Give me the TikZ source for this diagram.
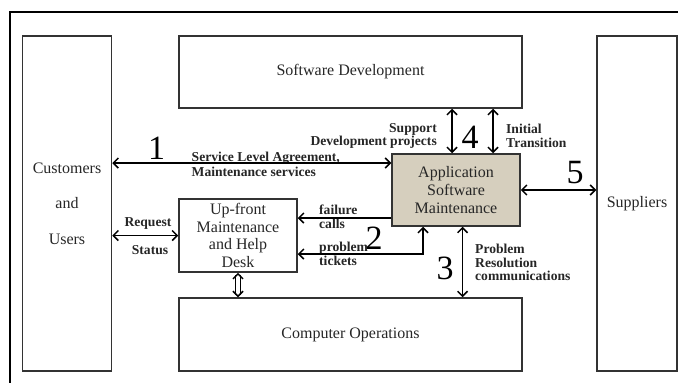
\documentclass[tikz,border=0pt]{standalone}
\usepackage{fontspec}
\setmainfont{Liberation Serif}
\usepackage{tikz}
\usetikzlibrary{arrows.meta,calc}
\definecolor{asmfill}{RGB}{214,207,190}
\tikzstyle{block} = [rectangle, draw=black!80, line width=1.5pt, text=black!85,
    align=center, inner sep=0pt, font=\fontsize{16}{17.6}\selectfont]
\tikzstyle{side} = [block, minimum width=89pt, minimum height=335pt]
\tikzstyle{wide} = [block, minimum width=343pt, minimum height=72pt]
\tikzstyle{blockm} = [block, minimum width=118pt, minimum height=73pt]
\tikzstyle{asm} = [block, fill=asmfill, minimum width=128pt, minimum height=72pt]
\tikzstyle{lbl} = [inner sep=0pt, text=black!85,
    font=\bfseries\fontsize{13.6}{13.8}\selectfont]
\tikzstyle{num} = [inner sep=0pt, font=\fontsize{34}{34}\selectfont]
\tikzstyle{line} = [draw, line width=1.5pt, >={Straight Barb[length=5pt,width=10pt]}]

\begin{document}
\begin{tikzpicture}[x=1pt, y=-1pt]
    \useasboundingbox (0,0) rectangle (678,383);
    \clip (0,0) rectangle (678,383);
    \draw [line width=1.5pt] (10,12) rectangle (700,400);

    % Place nodes
    \node [side] (cust) at (67,203.5) {Customers\\[18pt] and\\[18pt] Users};
    \node [wide] (sd) at (350.5,72) {Software Development};
    \node [side, minimum width=80pt] (supp) at (637,203.5) {Suppliers};
    \node [wide, minimum height=73pt] (ops) at (350.5,334.5) {Computer Operations};
    \node [asm] (asm) at (456,190) {Application\\ Software\\ Maintenance};
    \node [blockm, font=\fontsize{16}{17.5}\selectfont] (desk) at (238,235.5)
    {Up-front\\ Maintenance\\ and Help\\ Desk};

    % Helper coordinates
    \coordinate (sla) at (0,163);
    \coordinate (fail) at (0,218);
    \coordinate (tick) at (0,254);
    \coordinate (ca) at (452,0);
    \coordinate (cb) at (493,0);
    \coordinate (cc) at (462.6,0);
    \coordinate (cd) at (423,0);

    % Labels
    \node [num] (n1) at (156.5,148) {1};
    \node [num] (n2) at (374,238) {2};
    \node [num] (n3) at (445,268) {3};
    \node [num] (n4) at (470,137) {4};
    \node [num] (n5) at (575,173) {5};
    \node [lbl, anchor=west, align=left] (slatext) at (191.5,164.5)
    {Service Level Agreement,\\[1.5pt] Maintenance services};
    \node [lbl, anchor=east, align=right] (devtext) at (437,136)
    {Support\\ Development projects};
    \node [lbl, anchor=west, align=left] (inittext) at (506,136)
    {Initial\\ Transition};
    \node [lbl, anchor=west, align=left] (probtext) at (475,262.5)
    {Problem\\ Resolution\\ communications};
    \node [lbl, anchor=west, align=left] (failtext) at (319,217)
    {failure\\ calls};
    \node [lbl, anchor=west, align=left] (ticktext) at (319,253.5)
    {problem\\ tickets};
    \node [lbl] (reqtext) at (148,223) {Request};
    \node [lbl] (stattext) at (150,250) {Status};

    % Draw edges
    \path [line, <->] (cust.east |- sla) -- (asm.west |- sla);
    \path [line, <->] (sd.south -| ca) -- (asm.north -| ca);
    \path [line, <->] (sd.south -| cb) -- (asm.north -| cb);
    \path [line, <->] (asm.east) -- (supp.west |- asm.east);
    \path [line, <->] (asm.south -| cc) -- (ops.north -| cc);
    \path [line, ->] (asm.west |- fail) -- (desk.east |- fail);
    \path [line, <->] (asm.south -| cd) |- (desk.east |- tick);
    \path [line, <->] (cust.east |- desk.west) -- (desk.west);
    \path [line, <->, line width=1.5pt, double, double distance=3.5pt]
    (desk.south) -- (ops.north -| desk.south);

\end{tikzpicture}
\end{document}
